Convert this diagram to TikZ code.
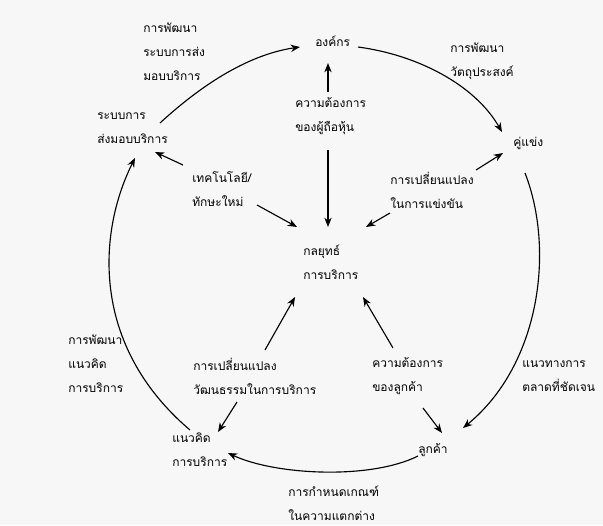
\documentclass[tikz,border=0pt]{standalone}
\usepackage{fontspec}
\newfontfamily\thaifont[Script=Thai]{Loma}
\usetikzlibrary{arrows.meta}
\begin{document}
\begin{tikzpicture}[x=0.75pt,y=-0.75pt,
  lbl/.style={anchor=west,align=left,inner sep=0pt,font=\thaifont\fontsize{9}{18}\selectfont,text=black},
  conn/.style={line width=0.85pt,draw=black,-{Stealth[length=7pt,width=5.5pt]}},
]
\fill[black!3] (0,0) rectangle (603,525);
\useasboundingbox (0,0) rectangle (603,525);

% text nodes
\node[lbl] (devdel)   at (143,52)  {การพัฒนา\\ระบบการส่ง\\มอบบริการ};
\node[lbl] (org)      at (315,41)  {องค์กร};
\node[lbl] (devobj)   at (450,61)  {การพัฒนา\\วัตถุประสงค์};
\node[lbl] (delivery) at (97,128)  {ระบบการ\\ส่งมอบบริการ};
\node[lbl] (comp)     at (513,143) {คู่แข่ง};
\node[lbl] (shneed)   at (295,116) {ความต้องการ\\ของผู้ถือหุ้น};
\node[lbl] (tech)     at (192,189) {เทคโนโลยี/\\ทักษะใหม่};
\node[lbl] (compch)   at (390,190) {การเปลี่ยนแปลง\\ในการแข่งขัน};
\node[lbl] (strat)    at (303,262) {กลยุทธ์\\การบริการ};
\node[lbl] (devcon)   at (68,364)  {การพัฒนา\\แนวคิด\\การบริการ};
\node[lbl] (culture)  at (193,376) {การเปลี่ยนแปลง\\วัฒนธรรมในการบริการ};
\node[lbl] (custneed) at (372,376) {ความต้องการ\\ของลูกค้า};
\node[lbl] (mkt)      at (522,376) {แนวทางการ\\ตลาดที่ชัดเจน};
\node[lbl] (concept)  at (172,450) {แนวคิด\\การบริการ};
\node[lbl] (cust)     at (418,450) {ลูกค้า};
\node[lbl] (crit)     at (288,503) {การกำหนดเกณฑ์\\ในความแตกต่าง};

% connector end points
\coordinate (delNE)  at (160,123);
\coordinate (orgW)   at (300,47);
\coordinate (orgE)   at (358,47);
\coordinate (compNW) at (502,132);
\coordinate (compS)  at (525,173);
\coordinate (custNE) at (463,428);
\coordinate (custW)  at (418,456);
\coordinate (conE)   at (228,453);
\coordinate (conN)   at (190,430);
\coordinate (delS)   at (135,158);
\coordinate (delSE)  at (155,152);
\coordinate (techNW) at (183,165);
\coordinate (techSE) at (257,205);
\coordinate (stratNW) at (297,227);
\coordinate (shT)    at (328,92);
\coordinate (orgS)   at (328,63);
\coordinate (shB)    at (328,150);
\coordinate (stratN) at (328,227);
\coordinate (compchSW) at (390,213);
\coordinate (stratNE) at (366,227);
\coordinate (compchNE) at (476,170);
\coordinate (compSW) at (503,153);
\coordinate (cultNE) at (265,350);
\coordinate (stratSW) at (295,297);
\coordinate (cultSW) at (237,402);
\coordinate (conNE)  at (218,432);
\coordinate (cnNW)   at (393,348);
\coordinate (stratSE) at (363,297);
\coordinate (cnSE)   at (423,408);
\coordinate (custN)  at (442,433);

% outer cycle
\draw[conn] (delNE) .. controls (197,89) and (245,55) .. (orgW);
\draw[conn] (orgE) .. controls (418,55) and (475,85) .. (compNW);
\draw[conn] (compS) .. controls (555,250) and (540,365) .. (custNE);
\draw[conn] (custW) .. controls (370,480) and (275,475) .. (conE);
\draw[conn] (conN) .. controls (90,345) and (98,232) .. (delS);

% inner arrows
\draw[conn] (techNW) -- (delSE);
\draw[conn] (techSE) -- (stratNW);
\draw[conn] (shT) -- (orgS);
\draw[conn] (shB) -- (stratN);
\draw[conn] (compchSW) -- (stratNE);
\draw[conn] (compchNE) -- (compSW);
\draw[conn] (cultNE) -- (stratSW);
\draw[conn] (cultSW) -- (conNE);
\draw[conn] (cnNW) -- (stratSE);
\draw[conn] (cnSE) -- (custN);
\end{tikzpicture}
\end{document}
